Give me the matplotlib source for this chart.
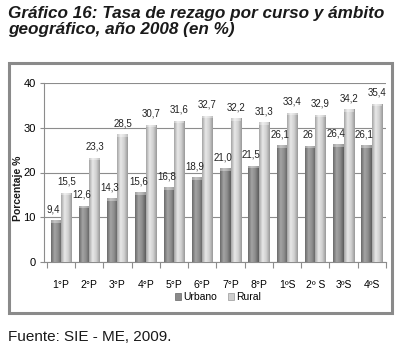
import numpy as np
import matplotlib
matplotlib.use("Agg")
import matplotlib.pyplot as plt
from matplotlib.patches import Rectangle, Patch
from matplotlib.colors import LinearSegmentedColormap

categories = ["1°P", "2°P", "3°P", "4°P", "5°P", "6°P", "7°P", "8°P", "1ºS", "2º S", "3ºS", "4ºS"]
urbano = [9.4, 12.6, 14.3, 15.6, 16.8, 18.9, 21.0, 21.5, 26.1, 26.0, 26.4, 26.1]
rural = [15.5, 23.3, 28.5, 30.7, 31.6, 32.7, 32.2, 31.3, 33.4, 32.9, 34.2, 35.4]
urbano_labels = ["9,4", "12,6", "14,3", "15,6", "16,8", "18,9", "21,0", "21,5", "26,1", "26", "26,4", "26,1"]
rural_labels = ["15,5", "23,3", "28,5", "30,7", "31,6", "32,7", "32,2", "31,3", "33,4", "32,9", "34,2", "35,4"]
yticks = [0, 10, 20, 30, 40]

SANS = ["Liberation Sans", "DejaVu Sans"]

fig = plt.figure(figsize=(4.02, 3.55), dpi=100)
fig.patch.set_facecolor("white")

# outer frame
fig.patches.append(Rectangle((9/402, 1-313/355), (392-9)/402, (313-63)/355,
                             transform=fig.transFigure, fill=False,
                             edgecolor="#8a8a8a", linewidth=2.2, zorder=0))

ax = fig.add_axes([44/402, 1-262/355, (386-44)/402, (262-83)/355])
x = np.arange(len(categories))
w = 0.37

cm_u = LinearSegmentedColormap.from_list("u", ["#6a6a6a", "#a4a4a4", "#8c8c8c", "#5c5c5c"])
cm_r = LinearSegmentedColormap.from_list("r", ["#a4a4a4", "#e8e8e8", "#d0d0d0", "#999999"])
grad = np.linspace(0, 1, 64).reshape(1, -1)

def draw(xs, vals, cmap):
    bars = ax.bar(xs, vals, width=w, color="none", edgecolor="none", zorder=3)
    for b in bars:
        x0, wd, h = b.get_x(), b.get_width(), b.get_height()
        im = ax.imshow(grad, cmap=cmap, aspect="auto", extent=(x0, x0 + wd, 0, h),
                       zorder=3, interpolation="bilinear")
        im.set_clip_path(b)
        cap = Rectangle((x0, h - 0.6), wd, 0.6, facecolor="white", alpha=0.35,
                        edgecolor="none", zorder=4)
        ax.add_patch(cap)
    return bars

draw(x - w/2, urbano, cm_u)
draw(x + w/2, rural, cm_r)
ax.set_xlim(-0.6, 11.5)
ax.set_ylim(0, 40)

for i in range(len(categories)):
    ax.text(x[i] - w/2 - 0.08, urbano[i] + 1.3, urbano_labels[i], ha="center", va="bottom",
            fontsize=7, family=SANS, color="#222222", zorder=5)
    ax.text(x[i] + w/2, rural[i] + 1.3, rural_labels[i], ha="center", va="bottom",
            fontsize=7, family=SANS, color="#222222", zorder=5)

ax.set_yticks(yticks)
ax.set_yticklabels([str(t) for t in yticks], family=SANS, fontsize=8)
ax.yaxis.grid(True, color="#8c8c8c", linewidth=0.8, zorder=0)
ax.set_axisbelow(True)
ax.tick_params(axis="y", length=3, color="#8c8c8c", pad=3)
ax.set_xticks(np.arange(-0.5, 12, 1), minor=False)
ax.set_xticklabels([])
ax.tick_params(axis="x", length=4, color="#8c8c8c", direction="out")
ax.set_xticks(x, minor=True)
ax.set_xticklabels(categories, minor=True, family=SANS, fontsize=7.5)
ax.tick_params(axis="x", which="minor", length=0, pad=13)
for s in ["top", "right"]:
    ax.spines[s].set_visible(False)
for s in ["left", "bottom"]:
    ax.spines[s].set_color("#8c8c8c")
    ax.spines[s].set_linewidth(0.8)

fig.text(18/402, 1-188/355, "Porcentaje %", rotation=90, ha="center", va="center",
         fontsize=7.5, fontweight="bold", family=SANS, color="#1a1a1a")

handles = [Patch(facecolor="#8a8a8a", edgecolor="#666666", linewidth=0.5),
           Patch(facecolor="#cfcfcf", edgecolor="#999999", linewidth=0.5)]
fig.legend(handles, ["Urbano", "Rural"], loc="center", bbox_to_anchor=(218/402, 1-297/355),
           ncol=2, frameon=False, prop={"family": SANS, "size": 7.5},
           handlelength=0.6, handleheight=0.6, handletextpad=0.2, columnspacing=1.0)

fig.text(8/402, 1-6/355, "Gráfico 16: Tasa de rezago por curso y ámbito\ngeográfico, año 2008 (en %)",
         ha="left", va="top", fontsize=12.3, fontweight="bold", style="italic",
         family=SANS, color="#1a1a1a", linespacing=1.1)
fig.text(8/402, 1-337/355, "Fuente: SIE - ME, 2009.", ha="left", va="center",
         fontsize=11, family=SANS, color="#1a1a1a")

fig.savefig("out.png", dpi=100)
